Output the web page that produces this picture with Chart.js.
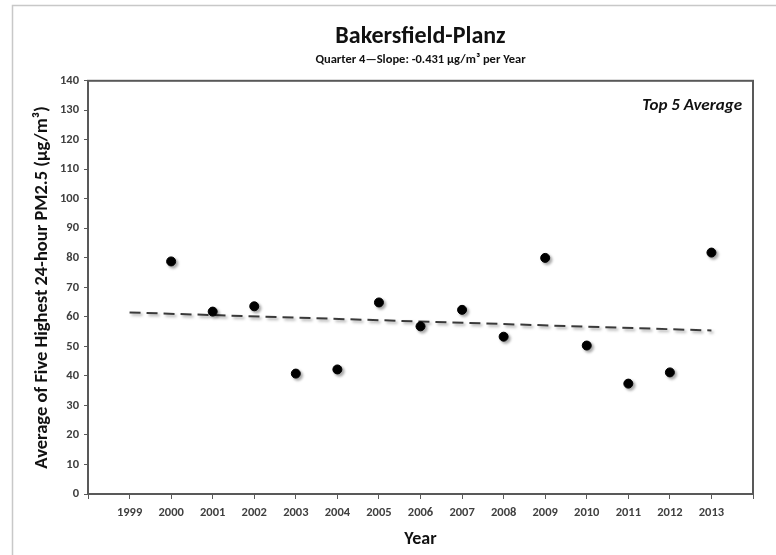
<!DOCTYPE html>
<html>
<head>
<meta charset="utf-8">
<style>
  html, body { margin: 0; padding: 0; background: #fff; }
  canvas { display: block; }
</style>
</head>
<body>
<canvas id="chart" width="776" height="555"></canvas>

<script src="https://cdn.jsdelivr.net/npm/chart.js"></script>

<script>
    // values
    const years = [2000, 2001, 2002, 2003, 2004, 2005, 2006, 2007, 2008, 2009, 2010, 2011, 2012, 2013]
    const top5Avg = [78.8, 61.8, 63.6, 40.8, 42.2, 64.9, 56.8, 62.4, 53.3, 80.0, 50.3, 37.4, 41.2, 81.8]
    const trendYears = [1999, 2013]
    const trendValues = [61.5, 55.4]

    const font = "Carlito, 'Open Sans', sans-serif"
    const axisColor = '#595959'
    const labelColor = '#404040'

    const frame = {
        id: 'frame',
        beforeDraw(chart) {
            const c = chart.ctx
            c.save()
            c.strokeStyle = '#c8c8c8'
            c.lineWidth = 1.5
            c.beginPath()
            c.moveTo(12.5, 555)
            c.lineTo(12.5, 5.5)
            c.lineTo(776, 5.5)
            c.stroke()
            c.restore()
        },
        beforeDatasetDraw(chart) {
            const c = chart.ctx
            c.save()
            c.shadowColor = 'rgba(0,0,0,0.35)'
            c.shadowBlur = 3
            c.shadowOffsetX = 2
            c.shadowOffsetY = 2
        },
        afterDatasetDraw(chart) {
            chart.ctx.restore()
        },
        afterDraw(chart) {
            const {ctx: c, chartArea: a} = chart
            c.save()
            c.strokeStyle = axisColor
            c.lineWidth = 2
            c.strokeRect(a.left, a.top, a.right - a.left, a.bottom - a.top)
            c.fillStyle = '#111'
            c.font = `italic bold 17px ${font}`
            c.textAlign = 'right'
            c.textBaseline = 'middle'
            c.fillText('Top 5 Average', a.right - 11, a.top + 25)
            c.restore()
        }
    }

    new Chart(document.getElementById('chart'), {
        type: 'scatter',
        data: {
            datasets: [{
                label: 'Top 5 Average',
                data: years.map((y, i) => ({x: y, y: top5Avg[i]})),
                backgroundColor: '#000',
                borderColor: '#000',
                pointRadius: 4.5,
                pointHoverRadius: 4.5
            }, {
                label: 'Trend',
                type: 'line',
                data: trendYears.map((y, i) => ({x: y, y: trendValues[i]})),
                borderColor: '#3a3a3a',
                borderWidth: 2,
                borderDash: [11, 6],
                pointRadius: 0,
                fill: false
            }]
        },
        options: {
            responsive: false,
            animation: false,
            layout: { padding: { left: 13, right: 23, top: 0, bottom: 0 } },
            plugins: {
                legend: { display: false },
                tooltip: { enabled: false },
                title: {
                    display: true,
                    fullSize: false,
                    text: 'Bakersfield-Planz',
                    color: '#111',
                    font: { family: font, size: 24, weight: 'bold', lineHeight: 1.2 },
                    padding: { top: 23, bottom: 1 }
                },
                subtitle: {
                    display: true,
                    fullSize: false,
                    text: 'Quarter 4\u2014Slope: -0.431 \u00b5g/m\u00b3 per Year',
                    color: '#111',
                    font: { family: font, size: 12.5, weight: 'bold', lineHeight: 1.2 },
                    padding: { top: 0, bottom: 13 }
                }
            },
            scales: {
                x: {
                    type: 'linear',
                    min: 1998,
                    max: 2014,
                    afterFit: s => { s.height = 61 },
                    ticks: {
                        stepSize: 1,
                        autoSkip: false,
                        maxRotation: 0,
                        padding: 6,
                        color: labelColor,
                        font: { family: font, size: 12.5, weight: 'bold' },
                        callback: v => (v === 1998 || v === 2014) ? '' : String(v)
                    },
                    grid: { drawOnChartArea: false, drawTicks: true, tickLength: 5, color: axisColor, lineWidth: 1 },
                    border: { display: true, color: axisColor, width: 2 },
                    title: {
                        display: true,
                        text: 'Year',
                        color: '#111',
                        font: { family: font, size: 18, weight: 'bold', lineHeight: 1.2 },
                        padding: { top: 0, bottom: 5 }
                    }
                },
                y: {
                    min: 0,
                    max: 140,
                    afterFit: s => { s.width = 75 },
                    ticks: {
                        stepSize: 10,
                        padding: 5,
                        color: labelColor,
                        font: { family: font, size: 12.5, weight: 'bold' }
                    },
                    grid: { drawOnChartArea: false, drawTicks: true, tickLength: 4, color: axisColor, lineWidth: 1 },
                    border: { display: true, color: axisColor, width: 2 },
                    title: {
                        display: true,
                        text: 'Average of Five Highest 24-hour PM2.5 (\u00b5g/m\u00b3)',
                        color: '#111',
                        font: { family: font, size: 18.5, weight: 'bold', lineHeight: 1.2 },
                        padding: { top: 18, bottom: 0 }
                    }
                }
            }
        },
        plugins: [frame]
    })
</script>
</body>
</html>
